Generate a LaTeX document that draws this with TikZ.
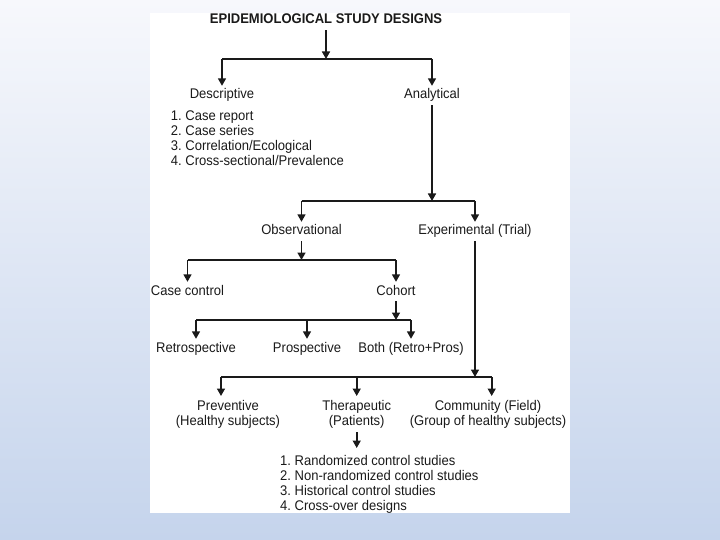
\documentclass[tikz,border=0pt]{standalone}
\usepackage{fontspec}
\setmainfont{Liberation Sans}[FakeStretch=0.93]
\usetikzlibrary{arrows.meta}
\definecolor{bgtop}{HTML}{F7F8FC}
\definecolor{bgbot}{HTML}{C5D4EC}
\definecolor{ink}{HTML}{1A1A1A}
\begin{document}
\frenchspacing
\begin{tikzpicture}[x=1pt,y=-1pt,
  lbl/.style={font=\fontsize{14}{15}\selectfont, text=ink, text height=10pt, text depth=3pt, inner sep=3pt},
  lbl2/.style={font=\fontsize{14}{15}\selectfont, text=ink, align=center, inner xsep=0pt, inner ysep=4pt, anchor=north},
  lst/.style={font=\fontsize{14}{15}\selectfont, text=ink, align=left, inner xsep=0pt, anchor=north west},
  ln/.style={draw=ink, line width=1.6pt},
  arr/.style={ln, -{Triangle[length=7.5pt,width=8pt]}}]
\useasboundingbox (0,0) rectangle (720,540);
\shade[top color=bgtop, bottom color=bgbot] (0,0) rectangle (720,540);
\fill[white] (150,13) rectangle (570,513);

% nodes
\node[lbl, font=\fontsize{14}{15}\selectfont\bfseries] (title) at (326,20.5) {EPIDEMIOLOGICAL STUDY DESIGNS};
\node[lbl] (desc) at (222,95.5) {Descriptive};
\node[lbl] (anal) at (432,95.5) {Analytical};
\node[lst, inner ysep=0pt] (desclist) at (170.7,111) {1. Case report\\2. Case series\\3. Correlation/Ecological\\4. Cross-sectional/Prevalence};
\node[lbl] (obs) at (301.5,231.5) {Observational};
\node[lbl] (exp) at (475,231.5) {Experimental (Trial)};
\node[lbl] (cc) at (187.5,291.5) {Case control};
\node[lbl] (coh) at (396,291.5) {Cohort};
\node[lbl] (retro) at (196,348.5) {Retrospective};
\node[lbl] (pros) at (307,348.5) {Prospective};
\node[lbl] (both) at (411,348.5) {Both (Retro+Pros)};
\node[lbl2] (prev) at (228,396) {Preventive\\(Healthy subjects)};
\node[lbl2] (ther) at (356.7,396) {Therapeutic\\(Patients)};
\node[lbl2] (comm) at (488,396) {Community (Field)\\(Group of healthy subjects)};
\node[lst, inner ysep=7pt] (therlist) at (280,448) {1. Randomized control studies\\2. Non-randomized control studies\\3. Historical control studies\\4. Cross-over designs};

% junction coordinates
\coordinate (j1) at (326,59);
\coordinate (j2) at (432,201);
\coordinate (j3) at (301.5,260);
\coordinate (j4) at (396,320);
\coordinate (j5) at (475,377);
\coordinate (jprev) at (221,377);
\coordinate (jcomm) at (491.7,377);

% level 1
\draw[arr] (title.south) -- (j1);
\draw[ln] (desc |- j1) -- (anal |- j1);
\draw[arr] (desc |- j1) -- (desc.north);
\draw[arr] (anal |- j1) -- (anal.north);
% level 2
\draw[arr] (anal.south) -- (j2);
\draw[ln] (obs |- j2) -- (exp |- j2);
\draw[arr] (obs |- j2) -- (obs.north);
\draw[arr] (exp |- j2) -- (exp.north);
% level 3
\draw[arr] (obs.south) -- (j3);
\draw[ln] (cc |- j3) -- (coh |- j3);
\draw[arr] (cc |- j3) -- (cc.north);
\draw[arr] (coh |- j3) -- (coh.north);
% level 4
\draw[arr] (coh.south) -- (j4);
\draw[ln] (retro |- j4) -- (both |- j4);
\draw[arr] (retro |- j4) -- (retro.north);
\draw[arr] (pros |- j4) -- (pros.north);
\draw[arr] (both |- j4) -- (both.north);
% level 5
\draw[arr] (exp.south) -- (j5);
\draw[ln] (jprev) -- (jcomm);
\draw[arr] (jprev) -- (jprev |- prev.north);
\draw[arr] (ther |- j5) -- (ther.north);
\draw[arr] (jcomm) -- (jcomm |- comm.north);
% therapeutic list
\draw[arr] (ther.south) -- (ther.south |- therlist.north);
\end{tikzpicture}
\end{document}
